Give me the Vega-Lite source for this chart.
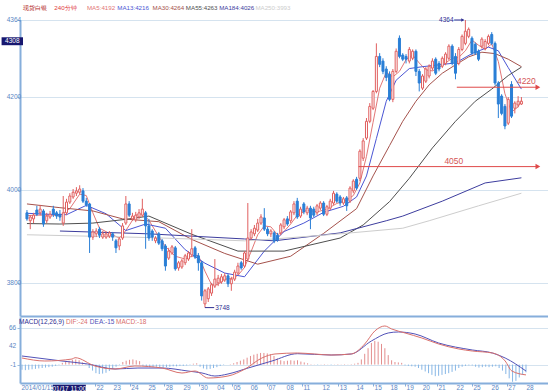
{
"$schema": "https://vega.github.io/schema/vega-lite/v6.json",
"padding": 0,
"bounds": "flush",
"spacing": 1,
"config": {"view": {"stroke": null}, "font": "Liberation Sans"},
"resolve": {"scale": {"x": "independent", "y": "independent", "color": "independent"}},
"datasets": {
"k": [
{"i":0,"o":3951,"h":3957,"l":3934,"c":3938},{"i":1,"o":3934,"h":3946,"l":3916,"c":3942},{"i":2,"o":3938,"h":3951,"l":3929,"c":3946},{"i":3,"o":3957,"h":3966,"l":3944,"c":3948},{"i":4,"o":3951,"h":3968,"l":3946,"c":3959},
{"i":5,"o":3955,"h":3959,"l":3921,"c":3927},{"i":6,"o":3934,"h":3951,"l":3929,"c":3944},{"i":7,"o":3942,"h":3955,"l":3938,"c":3948},{"i":8,"o":3959,"h":3966,"l":3942,"c":3948},{"i":9,"o":3951,"h":3955,"l":3938,"c":3944},
{"i":10,"o":3948,"h":3957,"l":3934,"c":3942},{"i":11,"o":3929,"h":3987,"l":3923,"c":3951},{"i":12,"o":3951,"h":3981,"l":3946,"c":3974},{"i":13,"o":3974,"h":3993,"l":3970,"c":3987},{"i":14,"o":3985,"h":4002,"l":3981,"c":3995},
{"i":15,"o":3993,"h":4006,"l":3987,"c":3998},{"i":16,"o":3995,"h":4010,"l":3991,"c":4002},{"i":17,"o":3998,"h":4004,"l":3972,"c":3976},{"i":18,"o":3976,"h":3983,"l":3964,"c":3968},{"i":19,"o":3970,"h":3972,"l":3865,"c":3899},
{"i":20,"o":3899,"h":3916,"l":3893,"c":3910},{"i":21,"o":3906,"h":3918,"l":3899,"c":3912},{"i":22,"o":3916,"h":3921,"l":3897,"c":3903},{"i":23,"o":3899,"h":3912,"l":3895,"c":3906},{"i":24,"o":3899,"h":3910,"l":3895,"c":3906},
{"i":25,"o":3901,"h":3912,"l":3897,"c":3908},{"i":26,"o":3906,"h":3910,"l":3891,"c":3899},{"i":27,"o":3891,"h":3895,"l":3865,"c":3876},{"i":28,"o":3880,"h":3899,"l":3871,"c":3895},{"i":29,"o":3897,"h":3929,"l":3893,"c":3923},
{"i":30,"o":3929,"h":3987,"l":3925,"c":3970},{"i":31,"o":3970,"h":3976,"l":3942,"c":3946},{"i":32,"o":3938,"h":3951,"l":3934,"c":3944},{"i":33,"o":3936,"h":3953,"l":3931,"c":3946},{"i":34,"o":3942,"h":3959,"l":3938,"c":3951},
{"i":35,"o":3946,"h":3981,"l":3942,"c":3959},{"i":36,"o":3951,"h":3955,"l":3874,"c":3923},{"i":37,"o":3923,"h":3938,"l":3891,"c":3897},{"i":38,"o":3912,"h":3916,"l":3891,"c":3899},{"i":39,"o":3891,"h":3901,"l":3886,"c":3897},
{"i":40,"o":3906,"h":3910,"l":3882,"c":3886},{"i":41,"o":3891,"h":3895,"l":3869,"c":3874},{"i":42,"o":3880,"h":3884,"l":3827,"c":3837},{"i":43,"o":3854,"h":3876,"l":3850,"c":3869},{"i":44,"o":3865,"h":3882,"l":3861,"c":3878},
{"i":45,"o":3876,"h":3880,"l":3827,"c":3831},{"i":46,"o":3833,"h":3848,"l":3827,"c":3844},{"i":47,"o":3835,"h":3852,"l":3831,"c":3848},{"i":48,"o":3844,"h":3863,"l":3839,"c":3859},{"i":49,"o":3852,"h":3869,"l":3848,"c":3865},
{"i":50,"o":3861,"h":3916,"l":3856,"c":3874},{"i":51,"o":3876,"h":3880,"l":3852,"c":3856},{"i":52,"o":3859,"h":3865,"l":3827,"c":3844},{"i":53,"o":3844,"h":3848,"l":3763,"c":3773},{"i":54,"o":3756,"h":3788,"l":3748,"c":3784},
{"i":55,"o":3767,"h":3792,"l":3760,"c":3788},{"i":56,"o":3779,"h":3801,"l":3773,"c":3797},{"i":57,"o":3794,"h":3852,"l":3790,"c":3809},{"i":58,"o":3801,"h":3818,"l":3794,"c":3811},{"i":59,"o":3803,"h":3820,"l":3799,"c":3814},
{"i":60,"o":3807,"h":3822,"l":3803,"c":3816},{"i":61,"o":3816,"h":3820,"l":3792,"c":3799},{"i":62,"o":3799,"h":3814,"l":3784,"c":3809},{"i":63,"o":3809,"h":3829,"l":3805,"c":3824},{"i":64,"o":3822,"h":3844,"l":3818,"c":3837},
{"i":65,"o":3844,"h":3848,"l":3829,"c":3833},{"i":66,"o":3837,"h":3869,"l":3833,"c":3865},{"i":67,"o":3852,"h":3972,"l":3848,"c":3897},{"i":68,"o":3897,"h":3916,"l":3893,"c":3910},{"i":69,"o":3906,"h":3925,"l":3901,"c":3918},
{"i":70,"o":3914,"h":3938,"l":3910,"c":3929},{"i":71,"o":3929,"h":3948,"l":3925,"c":3942},{"i":72,"o":3940,"h":3961,"l":3912,"c":3916},{"i":73,"o":3916,"h":3921,"l":3901,"c":3906},{"i":74,"o":3906,"h":3916,"l":3899,"c":3912},
{"i":75,"o":3908,"h":3912,"l":3886,"c":3891},{"i":76,"o":3903,"h":3908,"l":3889,"c":3893},{"i":77,"o":3908,"h":3929,"l":3903,"c":3925},{"i":78,"o":3921,"h":3940,"l":3916,"c":3936},{"i":79,"o":3938,"h":3944,"l":3923,"c":3927},
{"i":80,"o":3934,"h":3957,"l":3929,"c":3953},{"i":81,"o":3951,"h":3976,"l":3946,"c":3970},{"i":82,"o":3976,"h":3983,"l":3938,"c":3942},{"i":83,"o":3944,"h":3964,"l":3940,"c":3959},{"i":84,"o":3970,"h":3974,"l":3948,"c":3953},
{"i":85,"o":3951,"h":3966,"l":3946,"c":3961},{"i":86,"o":3961,"h":3966,"l":3916,"c":3940},{"i":87,"o":3959,"h":3964,"l":3942,"c":3946},{"i":88,"o":3951,"h":3970,"l":3946,"c":3966},{"i":89,"o":3961,"h":3976,"l":3957,"c":3972},
{"i":90,"o":3972,"h":3976,"l":3944,"c":3948},{"i":91,"o":3948,"h":3968,"l":3944,"c":3964},{"i":92,"o":3961,"h":3981,"l":3957,"c":3976},{"i":93,"o":3972,"h":3998,"l":3968,"c":3993},{"i":94,"o":3991,"h":3995,"l":3972,"c":3976},
{"i":95,"o":3985,"h":3989,"l":3966,"c":3972},{"i":96,"o":3972,"h":3985,"l":3968,"c":3981},{"i":97,"o":3983,"h":3987,"l":3955,"c":3966},{"i":98,"o":3976,"h":4008,"l":3972,"c":4004},{"i":99,"o":3998,"h":4023,"l":3993,"c":4019},
{"i":100,"o":4023,"h":4028,"l":4000,"c":4004},{"i":101,"o":4025,"h":4087,"l":4019,"c":4083},{"i":102,"o":4068,"h":4111,"l":4062,"c":4105},{"i":103,"o":4111,"h":4154,"l":4107,"c":4147},{"i":104,"o":4147,"h":4186,"l":4143,"c":4179},
{"i":105,"o":4175,"h":4214,"l":4171,"c":4211},{"i":106,"o":4211,"h":4314,"l":4207,"c":4286},{"i":107,"o":4286,"h":4293,"l":4263,"c":4269},{"i":108,"o":4276,"h":4282,"l":4248,"c":4254},{"i":109,"o":4259,"h":4265,"l":4233,"c":4241},
{"i":110,"o":4248,"h":4254,"l":4190,"c":4194},{"i":111,"o":4194,"h":4259,"l":4188,"c":4254},{"i":112,"o":4254,"h":4303,"l":4250,"c":4297},{"i":113,"o":4325,"h":4331,"l":4282,"c":4286},{"i":114,"o":4289,"h":4293,"l":4276,"c":4280},
{"i":115,"o":4286,"h":4291,"l":4271,"c":4280},{"i":116,"o":4276,"h":4306,"l":4271,"c":4301},{"i":117,"o":4282,"h":4301,"l":4278,"c":4297},{"i":118,"o":4297,"h":4301,"l":4244,"c":4254},{"i":119,"o":4254,"h":4259,"l":4211,"c":4229},
{"i":120,"o":4218,"h":4248,"l":4214,"c":4244},{"i":121,"o":4233,"h":4263,"l":4229,"c":4259},{"i":122,"o":4244,"h":4269,"l":4239,"c":4265},{"i":123,"o":4261,"h":4282,"l":4256,"c":4276},{"i":124,"o":4280,"h":4284,"l":4246,"c":4250},
{"i":125,"o":4271,"h":4276,"l":4254,"c":4259},{"i":126,"o":4265,"h":4286,"l":4261,"c":4282},{"i":127,"o":4271,"h":4295,"l":4267,"c":4291},{"i":128,"o":4282,"h":4312,"l":4278,"c":4308},{"i":129,"o":4308,"h":4312,"l":4267,"c":4271},
{"i":130,"o":4286,"h":4293,"l":4237,"c":4250},{"i":131,"o":4271,"h":4306,"l":4267,"c":4301},{"i":132,"o":4301,"h":4333,"l":4297,"c":4329},{"i":133,"o":4314,"h":4364,"l":4310,"c":4340},{"i":134,"o":4329,"h":4348,"l":4325,"c":4344},
{"i":135,"o":4325,"h":4329,"l":4289,"c":4293},{"i":136,"o":4312,"h":4316,"l":4289,"c":4293},{"i":137,"o":4297,"h":4301,"l":4276,"c":4280},{"i":138,"o":4308,"h":4327,"l":4303,"c":4323},{"i":139,"o":4303,"h":4323,"l":4299,"c":4318},
{"i":140,"o":4314,"h":4333,"l":4310,"c":4329},{"i":141,"o":4333,"h":4338,"l":4310,"c":4314},{"i":142,"o":4314,"h":4318,"l":4224,"c":4229},{"i":143,"o":4229,"h":4233,"l":4154,"c":4184},{"i":144,"o":4201,"h":4205,"l":4160,"c":4164},
{"i":145,"o":4179,"h":4184,"l":4130,"c":4137},{"i":146,"o":4143,"h":4199,"l":4139,"c":4194},{"i":147,"o":4226,"h":4233,"l":4154,"c":4158},{"i":148,"o":4175,"h":4190,"l":4164,"c":4186},{"i":149,"o":4182,"h":4201,"l":4177,"c":4190},
{"i":150,"o":4184,"h":4199,"l":4182,"c":4190}
],
"ma": [
{"k":"MA5","i":0,"v":3945},{"k":"MA5","i":3,"v":3946},{"k":"MA5","i":5,"v":3946},{"k":"MA5","i":8,"v":3946},{"k":"MA5","i":10,"v":3945},{"k":"MA5","i":13,"v":3960},{"k":"MA5","i":16,"v":3991},{"k":"MA5","i":18,"v":3988},{"k":"MA5","i":20,"v":3951},{"k":"MA5","i":22,"v":3918},{"k":"MA5","i":25,"v":3907},{"k":"MA5","i":28,"v":3897},{"k":"MA5","i":30,"v":3913},{"k":"MA5","i":33,"v":3946},{"k":"MA5","i":35,"v":3949},{"k":"MA5","i":37,"v":3935},{"k":"MA5","i":40,"v":3900},{"k":"MA5","i":42,"v":3879},{"k":"MA5","i":45,"v":3858},{"k":"MA5","i":48,"v":3852},{"k":"MA5","i":50,"v":3858},{"k":"MA5","i":52,"v":3860},{"k":"MA5","i":54,"v":3826},{"k":"MA5","i":56,"v":3797},{"k":"MA5","i":58,"v":3798},{"k":"MA5","i":60,"v":3809},{"k":"MA5","i":62,"v":3810},{"k":"MA5","i":64,"v":3817},{"k":"MA5","i":66,"v":3834},{"k":"MA5","i":68,"v":3868},{"k":"MA5","i":70,"v":3904},{"k":"MA5","i":72,"v":3923},{"k":"MA5","i":74,"v":3921},{"k":"MA5","i":76,"v":3904},{"k":"MA5","i":78,"v":3911},{"k":"MA5","i":80,"v":3927},{"k":"MA5","i":82,"v":3946},{"k":"MA5","i":85,"v":3957},{"k":"MA5","i":88,"v":3953},{"k":"MA5","i":91,"v":3959},{"k":"MA5","i":94,"v":3971},{"k":"MA5","i":97,"v":3978},{"k":"MA5","i":99,"v":3988},{"k":"MA5","i":101,"v":4015},{"k":"MA5","i":103,"v":4072},{"k":"MA5","i":105,"v":4145},{"k":"MA5","i":107,"v":4218},{"k":"MA5","i":109,"v":4252},{"k":"MA5","i":111,"v":4242},{"k":"MA5","i":113,"v":4254},{"k":"MA5","i":115,"v":4279},{"k":"MA5","i":117,"v":4289},{"k":"MA5","i":119,"v":4272},{"k":"MA5","i":121,"v":4257},{"k":"MA5","i":123,"v":4255},{"k":"MA5","i":125,"v":4262},{"k":"MA5","i":127,"v":4272},{"k":"MA5","i":129,"v":4282},{"k":"MA5","i":131,"v":4284},{"k":"MA5","i":133,"v":4298},{"k":"MA5","i":135,"v":4321},{"k":"MA5","i":137,"v":4310},{"k":"MA5","i":139,"v":4301},{"k":"MA5","i":141,"v":4313},{"k":"MA5","i":143,"v":4275},{"k":"MA5","i":145,"v":4206},{"k":"MA5","i":147,"v":4167},{"k":"MA5","i":149,"v":4178},{"k":"MA5","i":150,"v":4192},
{"k":"MA13","i":0,"v":3950},{"k":"MA13","i":6,"v":3948},{"k":"MA13","i":12,"v":3947},{"k":"MA13","i":18,"v":3967},{"k":"MA13","i":24,"v":3949},{"k":"MA13","i":30,"v":3913},{"k":"MA13","i":36,"v":3927},{"k":"MA13","i":42,"v":3918},{"k":"MA13","i":48,"v":3872},{"k":"MA13","i":54,"v":3843},{"k":"MA13","i":60,"v":3822},{"k":"MA13","i":66,"v":3814},{"k":"MA13","i":72,"v":3869},{"k":"MA13","i":78,"v":3911},{"k":"MA13","i":84,"v":3929},{"k":"MA13","i":90,"v":3952},{"k":"MA13","i":96,"v":3965},{"k":"MA13","i":100,"v":3985},{"k":"MA13","i":103,"v":4030},{"k":"MA13","i":106,"v":4110},{"k":"MA13","i":109,"v":4190},{"k":"MA13","i":112,"v":4235},{"k":"MA13","i":116,"v":4260},{"k":"MA13","i":120,"v":4264},{"k":"MA13","i":125,"v":4268},{"k":"MA13","i":130,"v":4272},{"k":"MA13","i":135,"v":4292},{"k":"MA13","i":140,"v":4306},{"k":"MA13","i":143,"v":4298},{"k":"MA13","i":146,"v":4262},{"k":"MA13","i":150,"v":4216},
{"k":"MA30","i":0,"v":3970},{"k":"MA30","i":10,"v":3962},{"k":"MA30","i":20,"v":3955},{"k":"MA30","i":29,"v":3938},{"k":"MA30","i":40,"v":3932},{"k":"MA30","i":50,"v":3894},{"k":"MA30","i":60,"v":3864},{"k":"MA30","i":70,"v":3841},{"k":"MA30","i":80,"v":3858},{"k":"MA30","i":90,"v":3907},{"k":"MA30","i":100,"v":3960},{"k":"MA30","i":105,"v":4030},{"k":"MA30","i":110,"v":4095},{"k":"MA30","i":114,"v":4147},{"k":"MA30","i":118,"v":4190},{"k":"MA30","i":122,"v":4225},{"k":"MA30","i":126,"v":4250},{"k":"MA30","i":130,"v":4268},{"k":"MA30","i":134,"v":4285},{"k":"MA30","i":138,"v":4295},{"k":"MA30","i":142,"v":4292},{"k":"MA30","i":146,"v":4280},{"k":"MA30","i":150,"v":4264},
{"k":"MA55","i":0,"v":3928},{"k":"MA55","i":10,"v":3927},{"k":"MA55","i":20,"v":3929},{"k":"MA55","i":30,"v":3937},{"k":"MA55","i":37,"v":3944},{"k":"MA55","i":50,"v":3905},{"k":"MA55","i":64,"v":3869},{"k":"MA55","i":78,"v":3869},{"k":"MA55","i":95,"v":3897},{"k":"MA55","i":102,"v":3925},{"k":"MA55","i":110,"v":3975},{"k":"MA55","i":116,"v":4025},{"k":"MA55","i":123,"v":4090},{"k":"MA55","i":130,"v":4147},{"k":"MA55","i":136,"v":4190},{"k":"MA55","i":141,"v":4216},{"k":"MA55","i":146,"v":4245},{"k":"MA55","i":150,"v":4263},
{"k":"MA184","i":10,"v":3912},{"k":"MA184","i":37,"v":3906},{"k":"MA184","i":66,"v":3895},{"k":"MA184","i":75,"v":3891},{"k":"MA184","i":95,"v":3908},{"k":"MA184","i":109,"v":3934},{"k":"MA184","i":114,"v":3944},{"k":"MA184","i":126,"v":3976},{"k":"MA184","i":139,"v":4015},{"k":"MA184","i":150,"v":4026},
{"k":"MA250","i":0,"v":3904},{"k":"MA250","i":37,"v":3898},{"k":"MA250","i":66,"v":3891},{"k":"MA250","i":75,"v":3895},{"k":"MA250","i":95,"v":3906},{"k":"MA250","i":114,"v":3918},{"k":"MA250","i":122,"v":3934},{"k":"MA250","i":137,"v":3966},{"k":"MA250","i":150,"v":3993}
],
"ttl": [
{"k":"name","i":-1.2,"t":"现货白银"},{"k":"period","i":8.3,"t":"240分钟"},{"k":"MA5","i":18.2,"t":"MA5:4192"},{"k":"MA13","i":27.4,"t":"MA13:4216"},{"k":"MA30","i":38.1,"t":"MA30:4264"},{"k":"MA55","i":48.2,"t":"MA55:4263"},{"k":"MA184","i":58.3,"t":"MA184:4026"},{"k":"MA250","i":69.3,"t":"MA250:3993"}
],
"arr": [
{"p":4220,"i1":130.4,"i2":155,"t":"4220","ti":151.5},
{"p":4050,"i1":100.6,"i2":155,"t":"4050","ti":129.5}
],
"ylab": [
{"p":3800,"t":"3800"},{"p":4000,"t":"4000"},{"p":4200,"t":"4200"},{"p":4364,"t":"4364"}
],
"h": [
{"i":0,"m":-12},{"i":1,"m":-13},{"i":2,"m":-12},{"i":3,"m":-11},{"i":4,"m":-10},{"i":5,"m":-9},{"i":6,"m":-8},{"i":7,"m":-7},{"i":8,"m":-6},{"i":9,"m":-5},{"i":10,"m":-3},{"i":11,"m":-1},{"i":12,"m":4},{"i":13,"m":7},{"i":14,"m":9},{"i":15,"m":11},{"i":16,"m":12},{"i":17,"m":10},{"i":18,"m":5},{"i":19,"m":1},{"i":20,"m":-8},{"i":21,"m":-14},{"i":22,"m":-20},{"i":23,"m":-22},{"i":24,"m":-21},{"i":25,"m":-19},{"i":26,"m":-15},{"i":27,"m":-10},{"i":28,"m":-5},{"i":29,"m":-1},{"i":30,"m":6},{"i":31,"m":9},{"i":32,"m":11},{"i":33,"m":12},{"i":34,"m":10},{"i":35,"m":8},{"i":36,"m":-3},{"i":37,"m":-5},{"i":38,"m":-6},{"i":39,"m":-6},{"i":40,"m":-5},{"i":41,"m":-6},{"i":42,"m":-7},{"i":43,"m":-6},{"i":44,"m":-5},{"i":45,"m":-4},{"i":46,"m":-4},{"i":47,"m":-3},{"i":48,"m":-3},{"i":49,"m":-2},{"i":50,"m":-1},{"i":51,"m":2},{"i":52,"m":3},{"i":53,"m":-5},{"i":54,"m":-9},{"i":55,"m":-11},{"i":56,"m":-10},{"i":57,"m":-8},{"i":58,"m":-6},{"i":59,"m":-3},{"i":60,"m":-1},{"i":61,"m":0},{"i":62,"m":1},{"i":63,"m":3},{"i":64,"m":6},{"i":65,"m":9},{"i":66,"m":12},{"i":67,"m":16},{"i":68,"m":20},{"i":69,"m":23},{"i":70,"m":25},{"i":71,"m":27},{"i":72,"m":27},{"i":73,"m":26},{"i":74,"m":24},{"i":75,"m":20},{"i":76,"m":14},{"i":77,"m":10},{"i":78,"m":8},{"i":79,"m":9},{"i":80,"m":10},{"i":81,"m":9},{"i":82,"m":10},{"i":83,"m":7},{"i":84,"m":5},{"i":85,"m":3},{"i":86,"m":1},{"i":87,"m":0.5},{"i":88,"m":-1},{"i":89,"m":0.5},{"i":90,"m":1},{"i":91,"m":0.5},{"i":92,"m":-1},{"i":93,"m":0.5},{"i":94,"m":1},{"i":95,"m":0.5},{"i":96,"m":1},{"i":97,"m":0.5},{"i":98,"m":1},{"i":99,"m":2},{"i":100,"m":4},{"i":101,"m":12},{"i":102,"m":25},{"i":103,"m":38},{"i":104,"m":50},{"i":105,"m":55},{"i":106,"m":53},{"i":107,"m":48},{"i":108,"m":38},{"i":109,"m":22},{"i":110,"m":10},{"i":111,"m":6},{"i":112,"m":5},{"i":113,"m":4},{"i":114,"m":-2},{"i":115,"m":-3},{"i":116,"m":-4},{"i":117,"m":-5},{"i":118,"m":-8},{"i":119,"m":-12},{"i":120,"m":-16},{"i":121,"m":-20},{"i":122,"m":-24},{"i":123,"m":-27},{"i":124,"m":-26},{"i":125,"m":-24},{"i":126,"m":-22},{"i":127,"m":-20},{"i":128,"m":-17},{"i":129,"m":-14},{"i":130,"m":-8},{"i":131,"m":-5},{"i":132,"m":-3},{"i":133,"m":-2},{"i":134,"m":-2},{"i":135,"m":-5},{"i":136,"m":-7},{"i":137,"m":-6},{"i":138,"m":-5},{"i":139,"m":-6},{"i":140,"m":-5},{"i":141,"m":-4},{"i":142,"m":-8},{"i":143,"m":-14},{"i":144,"m":-22},{"i":145,"m":-32},{"i":146,"m":-40},{"i":147,"m":-38},{"i":148,"m":-30},{"i":149,"m":-24},{"i":150,"m":-18}
],
"md": [
{"k":"DEA","i":0,"v":19.9},{"k":"DEA","i":11.9,"v":8.3},{"k":"DEA","i":19.6,"v":1.3},{"k":"DEA","i":27.7,"v":-10.3},{"k":"DEA","i":34.5,"v":-8},{"k":"DEA","i":41.7,"v":-8},{"k":"DEA","i":49.4,"v":-15},{"k":"DEA","i":53.6,"v":-19.6},{"k":"DEA","i":57.4,"v":-26.6},{"k":"DEA","i":61.3,"v":-21.9},{"k":"DEA","i":67.3,"v":-8},{"k":"DEA","i":74.4,"v":8.3},{"k":"DEA","i":82,"v":25.3},{"k":"DEA","i":92,"v":22.2},{"k":"DEA","i":98,"v":24.6},{"k":"DEA","i":104,"v":54.8},{"k":"DEA","i":109,"v":73.4},{"k":"DEA","i":112,"v":75.7},{"k":"DEA","i":117,"v":71},{"k":"DEA","i":124,"v":50.1},{"k":"DEA","i":134,"v":33.9},{"k":"DEA","i":140,"v":26.9},{"k":"DEA","i":143.8,"v":15.3},{"k":"DEA","i":150,"v":-15},
{"k":"DIF","i":0,"v":15.3},{"k":"DIF","i":6.8,"v":8.3},{"k":"DIF","i":14.9,"v":12.9},{"k":"DIF","i":15.8,"v":16},{"k":"DIF","i":21.7,"v":-3.3},{"k":"DIF","i":27.7,"v":-10.3},{"k":"DIF","i":33.6,"v":-3.3},{"k":"DIF","i":41.7,"v":-8},{"k":"DIF","i":47.6,"v":-19.6},{"k":"DIF","i":51.5,"v":-15},{"k":"DIF","i":55.4,"v":-31.2},{"k":"DIF","i":61.3,"v":-26.6},{"k":"DIF","i":66.4,"v":-10.3},{"k":"DIF","i":71.4,"v":15.3},{"k":"DIF","i":75.3,"v":24.6},{"k":"DIF","i":82,"v":26.9},{"k":"DIF","i":87,"v":24.6},{"k":"DIF","i":92,"v":22.2},{"k":"DIF","i":98,"v":24.6},{"k":"DIF","i":102,"v":47.8},{"k":"DIF","i":105,"v":78},{"k":"DIF","i":108,"v":89.6},{"k":"DIF","i":110,"v":82.7},{"k":"DIF","i":114,"v":73.4},{"k":"DIF","i":119,"v":61.7},{"k":"DIF","i":124,"v":47.8},{"k":"DIF","i":130,"v":36.2},{"k":"DIF","i":134,"v":31.5},{"k":"DIF","i":140,"v":26.9},{"k":"DIF","i":143.8,"v":8.3},{"k":"DIF","i":145.8,"v":-15},{"k":"DIF","i":150,"v":-24}
],
"ml": [
{"k":"macd","i":-0.9,"t":"MACD(12,26,9)"},{"k":"DIF","i":13.1,"t":"DIF:-24"},{"k":"DEA","i":20.2,"t":"DEA:-15"},{"k":"mv","i":28,"t":"MACD:-18"}
],
"mlab": [
{"v":-1,"t":"-1"},{"v":42,"t":"42"},{"v":85,"t":"66"}
],
"days": [
{"i":-0.595,"t":"2014/01/15"},{"i":21.7,"t":"22"},{"i":26.8,"t":"23"},{"i":32.1,"t":"24"},{"i":37.2,"t":"25"},{"i":42.3,"t":"28"},{"i":47.6,"t":"29"},{"i":52.7,"t":"30"},{"i":57.7,"t":"04"},{"i":62.5,"t":"05"},{"i":67.6,"t":"06"},{"i":72.9,"t":"07"},{"i":78.3,"t":"08"},{"i":83.3,"t":"11"},{"i":89,"t":"12"},{"i":94.1,"t":"13"},{"i":99.1,"t":"14"},{"i":104.5,"t":"15"},{"i":109.2,"t":"18"},{"i":114,"t":"19"},{"i":118.8,"t":"20"},{"i":123.5,"t":"21"},{"i":128.9,"t":"22"},{"i":133.9,"t":"25"},{"i":139.3,"t":"26"},{"i":144.3,"t":"27"},{"i":149.7,"t":"28"}
]
},
"vconcat": [
{
"width": 528, "height": 296,
"layer": [
{"data": {"values": [{"i":-8.04,"p":4404.7,"p2":4400}]}, "mark": {"type":"rule","strokeOpacity":0,"strokeWidth":0,"clip":false},
 "encoding": {"x": {"field":"i","type":"quantitative","scale":{"domain":[-0.595,156.55],"nice":false,"zero":false},
   "axis":{"labels":false,"ticks":false,"grid":false,"title":null,"domainColor":"#86aedb","domainWidth":2}},
  "y": {"field":"p","type":"quantitative","scale":{"domain":[3730,4364],"nice":false,"zero":false},
   "axis":{"values":[3800,4000,4200,4364],"labels":false,"title":null,"grid":true,"gridColor":"#d5e3ef","domainColor":"#86aedb","domainWidth":2,"tickColor":"#9dbde0","tickSize":3}},
  "y2": {"field":"p2"}}},
{"data": {"name":"ylab"}, "transform":[{"calculate":"-1.75","as":"i"}], "mark": {"type":"text","align":"right","baseline":"middle","fontSize":6.5,"color":"#5a86c4","clip":false},
 "encoding": {"x":{"field":"i","type":"quantitative"},"y":{"field":"p","type":"quantitative"},"text":{"field":"t"}}},
{"data": {"name":"ma"}, "mark": {"type":"line","strokeWidth":1,"clip":true},
 "encoding": {"x":{"field":"i","type":"quantitative"},"y":{"field":"v","type":"quantitative"},
  "color":{"field":"k","type":"nominal","legend":null,"scale":{"domain":["MA5","MA13","MA30","MA55","MA184","MA250","name","period"],"range":["#e27676","#4b56d4","#a5524c","#4f4f4f","#3d3d9e","#cdcdcd","#b01818","#e03c3c"]}}}},
{"data": {"name":"k"}, "mark": {"type":"rule","strokeWidth":1},
 "encoding": {"x":{"field":"i","type":"quantitative"},"y":{"field":"l","type":"quantitative"},"y2":{"field":"h"},
  "color":{"condition":{"test":"datum.c >= datum.o","value":"#e05f5f"},"value":"#2a7fd6"}}},
{"data": {"name":"k"}, "mark": {"type":"bar","size":2,"strokeWidth":1},
 "encoding": {"x":{"field":"i","type":"quantitative"},"y":{"field":"o","type":"quantitative"},"y2":{"field":"c"},
  "fill":{"condition":{"test":"datum.c >= datum.o","value":"#ffffff"},"value":"#2a7fd6"},
  "stroke":{"condition":{"test":"datum.c >= datum.o","value":"#e05f5f"},"value":"#2a7fd6"}}},
{"data": {"name":"arr"}, "mark": {"type":"rule","color":"#df4a4a","strokeWidth":1},
 "encoding": {"x":{"field":"i1","type":"quantitative"},"x2":{"field":"i2"},"y":{"field":"p","type":"quantitative"}}},
{"data": {"name":"arr"}, "mark": {"type":"point","shape":"triangle-right","filled":true,"size":30,"color":"#df4a4a","opacity":1},
 "encoding": {"x":{"field":"i2","type":"quantitative"},"y":{"field":"p","type":"quantitative"}}},
{"data": {"name":"arr"}, "mark": {"type":"text","align":"center","baseline":"bottom","dy":-1,"fontSize":8.5,"color":"#d45656"},
 "encoding": {"x":{"field":"ti","type":"quantitative"},"y":{"field":"p","type":"quantitative"},"text":{"field":"t"}}},
{"data": {"values":[{"i1":129.6,"i2":132.4,"p":4364},{"i1":54,"i2":56.8,"p":3748}]}, "mark": {"type":"rule","color":"#2f2f92","strokeWidth":1,"clip":false},
 "encoding": {"x":{"field":"i1","type":"quantitative"},"x2":{"field":"i2"},"y":{"field":"p","type":"quantitative"}}},
{"data": {"values":[{"i":132.2,"p":4364}]}, "mark": {"type":"point","shape":"triangle-right","filled":true,"size":12,"color":"#2f2f92","opacity":1,"clip":false},
 "encoding": {"x":{"field":"i","type":"quantitative"},"y":{"field":"p","type":"quantitative"}}},
{"data": {"values":[{"i":129.4,"p":4364,"t":"4364"}]}, "mark": {"type":"text","align":"right","baseline":"middle","fontSize":6.5,"color":"#2f2f92","clip":false},
 "encoding": {"x":{"field":"i","type":"quantitative"},"y":{"field":"p","type":"quantitative"},"text":{"field":"t"}}},
{"data": {"values":[{"i":57.1,"p":3748,"t":"3748"}]}, "mark": {"type":"text","align":"left","baseline":"middle","fontSize":6.5,"color":"#2f2f92","clip":false},
 "encoding": {"x":{"field":"i","type":"quantitative"},"y":{"field":"p","type":"quantitative"},"text":{"field":"t"}}},
{"data": {"name":"ttl"}, "transform":[{"calculate":"4389.5","as":"p"}], "mark": {"type":"text","align":"left","baseline":"middle","fontSize":6.2,"clip":false},
 "encoding": {"x":{"field":"i","type":"quantitative"},"y":{"field":"p","type":"quantitative"},"text":{"field":"t"},
  "color":{"field":"k","type":"nominal","legend":null,"scale":{"domain":["MA5","MA13","MA30","MA55","MA184","MA250","name","period"],"range":["#e27676","#4b56d4","#a5524c","#4f4f4f","#3d3d9e","#cdcdcd","#b01818","#e03c3c"]}}}},
{"data": {"values":[{"i1":-7.7,"i2":-1.2,"p1":4327,"p2":4310}]}, "mark": {"type":"rect","color":"#17176f","clip":false},
 "encoding": {"x":{"field":"i1","type":"quantitative"},"x2":{"field":"i2"},"y":{"field":"p1","type":"quantitative"},"y2":{"field":"p2"}}},
{"data": {"values":[{"i":-4.45,"p":4318.5,"t":"4308"}]}, "mark": {"type":"text","align":"center","baseline":"middle","fontSize":6.5,"color":"#ffffff","clip":false},
 "encoding": {"x":{"field":"i","type":"quantitative"},"y":{"field":"p","type":"quantitative"},"text":{"field":"t"}}}
]
},
{
"width": 528, "height": 66,
"layer": [
{"data": {"name":"h"}, "mark": {"type":"rule","strokeWidth":1},
 "encoding": {"x":{"field":"i","type":"quantitative","scale":{"domain":[-0.595,156.55],"nice":false,"zero":false},
   "axis":{"title":null,"grid":false,"labels":false,"domainColor":"#86aedb","domainWidth":2,"tickColor":"#86aedb","tickSize":3,
    "values":[21.7,26.8,32.1,37.2,42.3,47.6,52.7,57.7,62.5,67.6,72.9,78.3,83.3,89,94.1,99.1,104.5,109.2,114,118.8,123.5,128.9,133.9,139.3,144.3,149.7]}},
  "y":{"field":"m","type":"quantitative","scale":{"domain":[-42.8,110.5],"nice":false,"zero":false},
   "axis":{"values":[-1,42,85],"labels":false,"title":null,"grid":true,"gridColor":"#d5e3ef","domainColor":"#86aedb","domainWidth":2,"tickColor":"#9dbde0","tickSize":3}},
  "y2":{"datum":0},
  "color":{"condition":{"test":"datum.m > 0","value":"#e38e8e"},"value":"#86b6e6"}}},
{"data": {"name":"md"}, "mark": {"type":"line","strokeWidth":1,"interpolate":"monotone"},
 "encoding": {"x":{"field":"i","type":"quantitative"},"y":{"field":"v","type":"quantitative"},
  "color":{"field":"k","type":"nominal","legend":null,"scale":{"domain":["DIF","DEA","macd","mv"],"range":["#d9706c","#5252b8","#2f2f92","#d9706c"]}}}},
{"data": {"name":"ml"}, "transform":[{"calculate":"99","as":"v"}], "mark": {"type":"text","align":"left","baseline":"middle","fontSize":6.5},
 "encoding": {"x":{"field":"i","type":"quantitative"},"y":{"field":"v","type":"quantitative"},"text":{"field":"t"},
  "color":{"field":"k","type":"nominal","legend":null,"scale":{"domain":["DIF","DEA","macd","mv"],"range":["#d9706c","#5252b8","#2f2f92","#d9706c"]}}}},
{"data": {"name":"mlab"}, "transform":[{"calculate":"-1.75","as":"i"}], "mark": {"type":"text","align":"right","baseline":"middle","fontSize":6.5,"color":"#5a86c4","clip":false},
 "encoding": {"x":{"field":"i","type":"quantitative"},"y":{"field":"v","type":"quantitative"},"text":{"field":"t"}}},
{"data": {"name":"days"}, "transform":[{"calculate":"-54.5","as":"v"}], "mark": {"type":"text","align":"left","baseline":"middle","fontSize":6.5,"dx":1.5,"color":"#5a86c4","clip":false},
 "encoding": {"x":{"field":"i","type":"quantitative"},"y":{"field":"v","type":"quantitative"},"text":{"field":"t"}}},
{"data": {"values":[{"i1":9.2,"i2":19,"v1":-47,"v2":-64}]}, "mark": {"type":"rect","color":"#17176f","clip":false},
 "encoding": {"x":{"field":"i1","type":"quantitative"},"x2":{"field":"i2"},"y":{"field":"v1","type":"quantitative"},"y2":{"field":"v2"}}},
{"data": {"values":[{"i":14.1,"v":-56,"t":"01/17 11:00"}]}, "mark": {"type":"text","align":"center","baseline":"middle","fontSize":6.5,"color":"#ffffff","clip":false},
 "encoding": {"x":{"field":"i","type":"quantitative"},"y":{"field":"v","type":"quantitative"},"text":{"field":"t"}}}
]
}
]
}
